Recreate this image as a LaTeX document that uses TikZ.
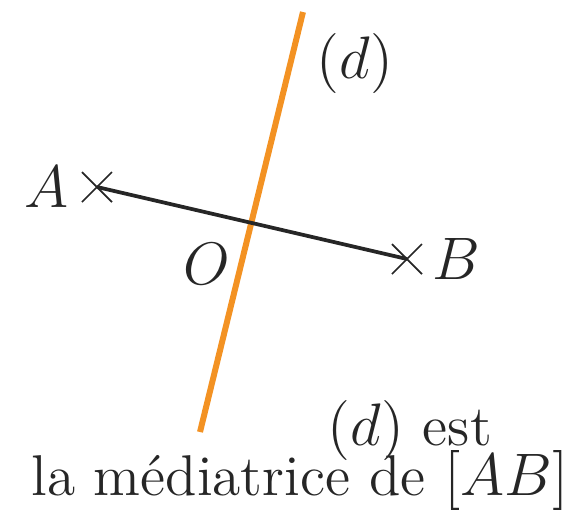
\documentclass[tikz,border=0pt]{standalone}
\usepackage{xcolor}
\usepackage{tikz}
\usetikzlibrary{positioning}

\definecolor{dorange}{RGB}{243,146,35}

\begin{document}
\begin{tikzpicture}[
    x=0.2pt, y=-0.2pt,
    seg/.style={line width=0.75pt, black!85},
    perp/.style={line width=1.2pt, dorange},
    tick/.style={line width=0.35pt, black!85},
    lbl/.style={inner sep=0pt, text=black!85, font=\fontsize{11.5}{13}\selectfont}
]
\useasboundingbox (0,0) rectangle (578,511);

\coordinate (A)  at (97,187);
\coordinate (B)  at (407,259);
\coordinate (O)  at (252,223);
\coordinate (d1) at (303,12);
\coordinate (d2) at (200,432);

\draw[perp] (d2) -- (d1);
\draw[seg]  (A) -- (B);
\foreach \p in {A,B}
  \draw[tick] (\p) +(-3pt,-3pt) -- +(3pt,3pt) (\p) +(-3pt,3pt) -- +(3pt,-3pt);

\node[lbl, left=5.5pt of A]  (lA) {$A$};
\node[lbl, right=5pt of B] (lB) {$B$};
\node[lbl] (lO) at (207,264) {$O$};
\node[lbl] (ld) at (355,63)  {$(d)$};

\node[lbl, anchor=base] (t1) at (410,445) {$(d)$ est};
\node[lbl, anchor=base] (t2) at (300,495) {la médiatrice de $[AB]$};

\end{tikzpicture}
\end{document}
